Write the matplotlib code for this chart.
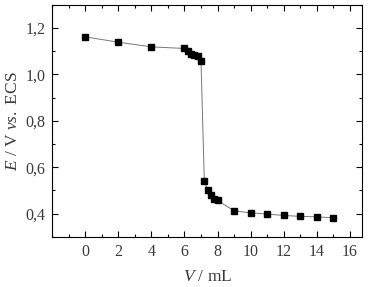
import numpy as np
import matplotlib
matplotlib.use("Agg")
import matplotlib.pyplot as plt
from matplotlib.ticker import FuncFormatter, MultipleLocator

volume = [0, 2, 4, 6, 6.2, 6.4, 6.6, 6.8, 7.0, 7.2, 7.4, 7.6, 7.8, 8.0,
          9, 10, 11, 12, 13, 14, 15]
potential = [1.162, 1.139, 1.119, 1.112, 1.100, 1.089, 1.084, 1.078, 1.060,
             0.540, 0.503, 0.481, 0.464, 0.457, 0.412, 0.403, 0.398, 0.392,
             0.388, 0.386, 0.382]

plt.rcParams['font.family'] = 'Liberation Serif'
plt.rcParams['mathtext.fontset'] = 'custom'
plt.rcParams['mathtext.rm'] = 'Liberation Serif'
plt.rcParams['mathtext.it'] = 'Liberation Serif:italic'

txt = '#3a3a3a'
fig = plt.figure(figsize=(3.71, 2.87), dpi=100)
ax = fig.add_axes([0.141, 0.175, 0.835, 0.808])

ax.plot(volume, potential, color='#777777', lw=0.7, marker='s', ms=3.7,
        mfc='black', mec='black', zorder=3)

ax.set_xlim(-2, 16.75)
ax.set_ylim(0.3, 1.3)
ax.set_xticks(np.arange(0, 17, 2))
ax.set_yticks([0.4, 0.6, 0.8, 1.0, 1.2])
ax.xaxis.set_minor_locator(MultipleLocator(1))
ax.yaxis.set_minor_locator(MultipleLocator(0.1))
ax.yaxis.set_major_formatter(FuncFormatter(lambda v, p: f'{v:.1f}'.replace('.', ',')))

ax.tick_params(which='both', direction='in', top=True, right=True,
               labelsize=11.5, labelcolor=txt, width=0.8)
ax.tick_params(which='major', length=4, pad=5)
ax.tick_params(which='minor', length=2)
for s in ax.spines.values():
    s.set_linewidth(0.8)

ax.set_xlabel('$V$ / mL', fontsize=12.5, color=txt, labelpad=7)
ax.set_ylabel(r'$E$ / V $vs.$ ECS', fontsize=12.5, color=txt, labelpad=3)

fig.savefig('out.png', dpi=100)
